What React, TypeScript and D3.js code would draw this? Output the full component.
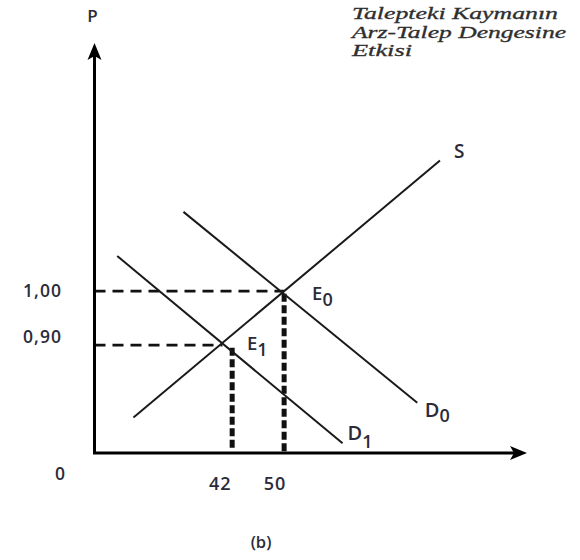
import React from "react";
import * as d3 from "d3";

const W = 580;
const H = 560;

// schematic axes domains (quantity, price)
const qDomain = [20.8, 87.4];
const pDomain = [0.7, 1.46];

const eqQuantities = [42, 50];
const qTickLabels = ["42", "50"];
const eqPrices = [0.9, 1.0];
const pTickLabels = ["0,90", "1,00"];

// curves: [Q, P]
const supply: [number, number][] = [
  [26.8, 0.766],
  [74.0, 1.242],
];
const demand0: [number, number][] = [
  [34.5, 1.147],
  [70.5, 0.793],
];
const demand1: [number, number][] = [
  [24.3, 1.065],
  [59.0, 0.718],
];
// equilibrium crossings [Q, P]
const E0: [number, number] = [50, 1.0];
const E1: [number, number] = [40.5, 0.9];

const titleLines = ["Talepteki Kaymanın", "Arz-Talep Dengesine", "Etkisi"];

export default function App() {
  const x = d3.scaleLinear().domain(qDomain).range([94.5, 527]);
  const y = d3.scaleLinear().domain(pDomain).range([453, 43]);
  const line = d3
    .line<[number, number]>()
    .x((d) => x(d[0]))
    .y((d) => y(d[1]));

  const x0 = x(qDomain[0]);
  const y0 = y(pDomain[0]);
  const xEnd = x(qDomain[1]);
  const yTop = y(pDomain[1]);
  const txt = "#2b2b3a";
  const sans = "'Open Sans', Lato, sans-serif";
  const fw = 600;

  return (
    <svg width={W} height={H} style={{ position: "absolute", left: 0, top: 0, background: "#fff" }}>
      {/* title */}
      {titleLines.map((t, i) => (
        <text
          key={t}
          x={352}
          y={19 + i * 18.5}
          fontFamily="'Liberation Serif', serif"
          fontStyle="italic"
          fontSize={17}
          fill="#2e2e2e"
          stroke="#2e2e2e"
          strokeWidth={0.3}
          textLength={i === 0 ? 206 : i === 1 ? 214 : 60}
          lengthAdjust="spacingAndGlyphs"
        >
          {t}
        </text>
      ))}

      {/* dashed price guides */}
      <path d={line([[qDomain[0], E0[1]], [E0[0], E0[1]]])!} stroke="#111" strokeWidth={2.6} strokeDasharray="11,7" fill="none" />
      <path d={line([[qDomain[0], E1[1]], [E1[0], E1[1]]])!} stroke="#111" strokeWidth={2.6} strokeDasharray="11,7" fill="none" />

      {/* dotted quantity guides */}
      <path d={line([[eqQuantities[1], eqPrices[1] - 0.005], [eqQuantities[1], pDomain[0]]])!} stroke="#111" strokeWidth={5} strokeDasharray="8,3.5" fill="none" />
      <path d={line([[eqQuantities[0], eqPrices[0] - 0.005], [eqQuantities[0], pDomain[0] + 0.008]])!} stroke="#111" strokeWidth={5} strokeDasharray="8,3.5" fill="none" />

      {/* curves */}
      <path d={line(supply)!} stroke="#1a1a1a" strokeWidth={2} fill="none" />
      <path d={line(demand0)!} stroke="#1a1a1a" strokeWidth={2} fill="none" />
      <path d={line(demand1)!} stroke="#1a1a1a" strokeWidth={2} fill="none" />

      {/* axes */}
      <line x1={x0} y1={y0} x2={x0} y2={yTop + 8} stroke="#000" strokeWidth={3} />
      <line x1={x0 - 1.5} y1={y0} x2={xEnd - 8} y2={y0} stroke="#000" strokeWidth={3} />
      <path d={`M${x0},${yTop} L${x0 - 7},${yTop + 17} L${x0},${yTop + 13} L${x0 + 7},${yTop + 17} Z`} fill="#000" />
      <path d={`M${xEnd},${y0} L${xEnd - 17},${y0 - 7} L${xEnd - 13},${y0} L${xEnd - 17},${y0 + 7} Z`} fill="#000" />

      {/* axis labels */}
      <text x={92.5} y={22} textAnchor="middle" fontFamily={sans} fontWeight={fw} fontSize={17} fill={txt}>P</text>
      <text x={60} y={480} textAnchor="middle" fontFamily={sans} fontWeight={fw} fontSize={17.5} fill={txt}>0</text>
      {pTickLabels.map((t, i) => (
        <text key={t} x={42.5} y={y(eqPrices[i]) + (i === 0 ? -2 : 6)} textAnchor="middle" fontFamily={sans} fontWeight={fw} fontSize={17.5} letterSpacing={1} fill={txt}>
          {t}
        </text>
      ))}
      {qTickLabels.map((t, i) => (
        <text key={t} x={x(eqQuantities[i]) - (i === 0 ? 12 : 9)} y={490} textAnchor="middle" fontFamily={sans} fontWeight={fw} fontSize={18} letterSpacing={1} fill={txt}>
          {t}
        </text>
      ))}

      {/* curve labels */}
      <text x={x(supply[1][0]) + 14} y={y(supply[1][1]) - 3} fontFamily={sans} fontWeight={fw} fontSize={19} fill={txt}>S</text>
      <text x={x(E0[0]) + 28} y={y(E0[1]) + 9} fontFamily={sans} fontWeight={fw} fontSize={18.5} fill={txt}>
        E<tspan dy={6} fontSize={18}>0</tspan>
      </text>
      <text x={x(E1[0]) + 24.5} y={y(E1[1]) + 5} fontFamily={sans} fontWeight={fw} fontSize={18.5} fill={txt}>
        E<tspan dy={6} fontSize={18}>1</tspan>
      </text>
      <text x={x(demand0[1][0]) + 7.5} y={y(demand0[1][1]) + 14} fontFamily={sans} fontWeight={fw} fontSize={20} fill={txt}>
        D<tspan dy={5} fontSize={18}>0</tspan>
      </text>
      <text x={x(demand1[1][0]) + 5} y={y(demand1[1][1]) - 3} fontFamily={sans} fontWeight={fw} fontSize={20} fill={txt}>
        D<tspan dy={8} fontSize={18}>1</tspan>
      </text>

      <text x={261} y={548} textAnchor="middle" fontFamily={sans} fontWeight={fw} fontSize={16.5} fill={txt}>(b)</text>
    </svg>
  );
}
